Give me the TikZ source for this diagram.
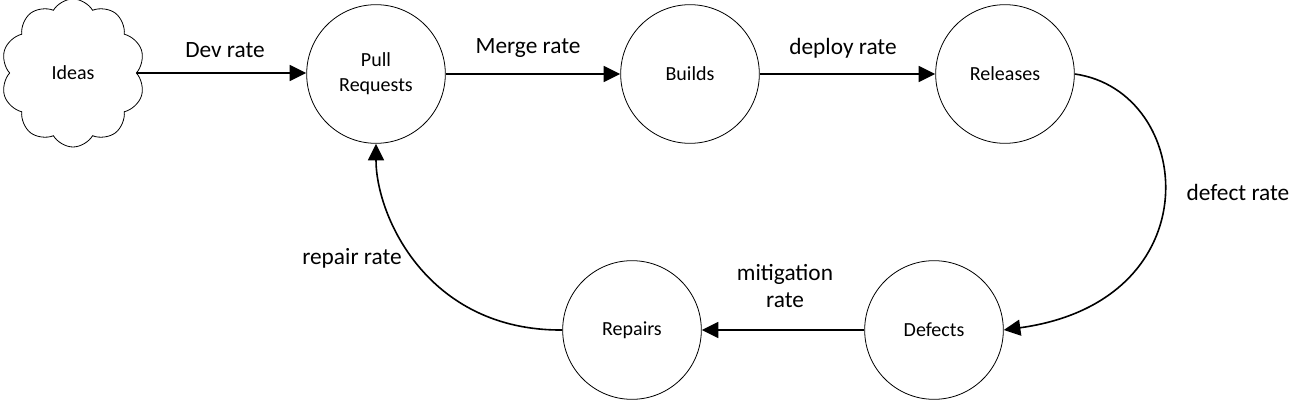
\documentclass[tikz,border=0pt]{standalone}
\usepackage{fontspec}
\setmainfont{Carlito}
\usetikzlibrary{shapes.symbols,arrows.meta}
\begin{document}
\begin{tikzpicture}[x=0.75pt,y=-0.75pt,
  stock/.style={circle,draw,line width=0.6pt,minimum size=104pt,inner sep=0pt,align=center,font=\fontsize{15}{18.75}\selectfont},
  flow/.style={line width=1.2pt,-{Triangle[length=12.5pt,width=12pt]}},
  lbl/.style={font=\fontsize{17.5}{20}\selectfont,align=center,inner sep=0pt}]
\useasboundingbox (0,0) rectangle (1304,403);
\node[cloud,draw,line width=0.6pt,cloud puffs=10,cloud puff arc=120,minimum width=108pt,minimum height=111pt,inner sep=0pt,font=\fontsize{15}{18}\selectfont] (ideas) at (73,73) {Ideas};
\node[stock] (pr) at (376,74) {Pull\\Requests};
\node[stock] (bu) at (690,74) {Builds};
\node[stock] (re) at (1005,74) {Releases};
\node[stock] (de) at (934,330) {Defects};
\node[stock] (rp) at (632,330) {Repairs};
\draw[flow] (ideas.east |- 0,73) -- (pr.west |- 0,73);
\draw[flow] (pr) -- (bu);
\draw[flow] (bu) -- (re);
\draw[flow] (re.east) .. controls +(120,17) and +(211,-29) .. (de.east);
\draw[flow] (de) -- (rp);
\draw[flow] (rp.west) .. controls +(-135,1) and +(0,72) .. (pr.south);
\node[lbl] (l1) at (225,50) {Dev rate};
\node[lbl] (l2) at (528,48) {Merge rate};
\node[lbl] (l3) at (843,48) {deploy rate};
\node[lbl] (l4) at (1238,192) {defect rate};
\node[lbl] (l5) at (785,286) {mitigation\\rate};
\node[lbl] (l6) at (352,258) {repair rate};
\end{tikzpicture}
\end{document}
